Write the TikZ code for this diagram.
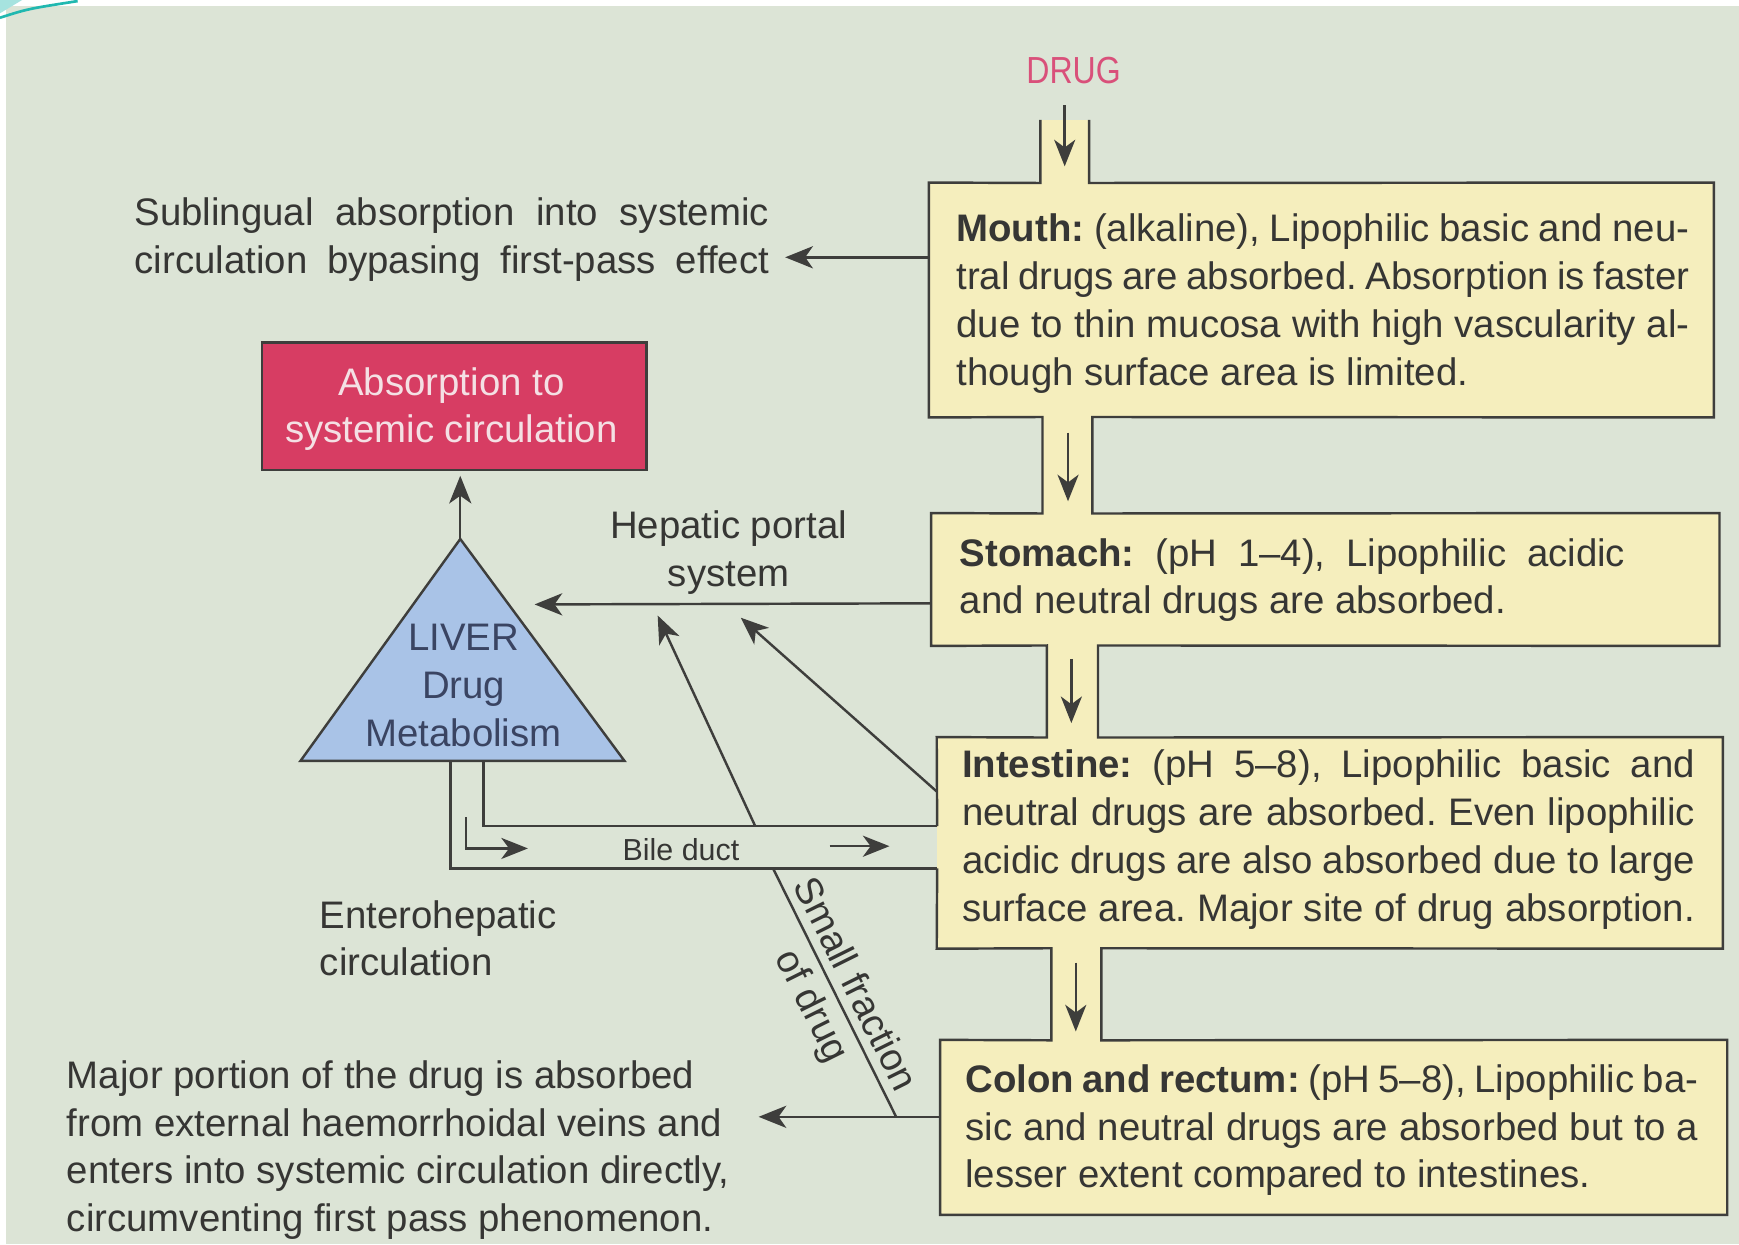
\documentclass[tikz,border=0pt]{standalone}
\usepackage{fontspec}
\setmainfont{Liberation Sans}
\newfontfamily\condf[FakeStretch=0.85]{Liberation Sans}
\usetikzlibrary{arrows.meta,calc,fit}
\definecolor{bg}{HTML}{DCE4D6}
\definecolor{boxy}{HTML}{F5EEBD}
\definecolor{linec}{HTML}{3E3E3C}
\definecolor{ink}{HTML}{363634}
\definecolor{redc}{HTML}{D73D63}
\definecolor{pinkw}{HTML}{F4E0E4}
\definecolor{bluec}{HTML}{A9C3E7}
\definecolor{liverink}{HTML}{3A4462}
\definecolor{drugc}{HTML}{D9507A}
\definecolor{tealc}{HTML}{20B8B0}
\newcommand\jl[1]{\makebox[330.5pt][s]{#1}}
\frenchspacing
\tikzset{
  txt/.style={font=\fontsize{17.3}{21.6}\selectfont, text=ink, inner sep=0pt},
  arr/.style={draw=linec, line width=1.1pt, -{Stealth[length=12.5pt,width=10pt,inset=3.5pt]}},
  sarr/.style={draw=linec, line width=1.1pt, -{Stealth[length=12pt,width=9.5pt,inset=3.5pt]}},
  ln/.style={draw=linec, line width=1.1pt, line join=miter},
  yelbox/.style={fill=boxy, inner sep=0pt, draw=none},
}
\begin{document}
\begin{tikzpicture}[x=0.5pt,y=-0.5pt]
\useasboundingbox (0,0) rectangle (1568,1122);
\fill[white] (0,0) rectangle (1568,1122);
\fill[bg] (5,5) rectangle (1568,1122);
\fill[tealc!40] (0,0) -- (20,0) -- (0,12) -- cycle;
\draw[tealc, line width=1.2pt] (0,16) .. controls (25,8) .. (70,1);

% DRUG
\node[txt, font=\condf\fontsize{17}{20}\selectfont, text=drugc] (drug) at (968,64) {DRUG};

% boxes
\node[yelbox, fit={(838,165) (1545,376)}] (mouth) {};
\node[yelbox, fit={(840,463) (1550,582)}] (stomach) {};
\node[yelbox, fit={(845,665) (1553,855)}] (intestine) {};
\node[yelbox, fit={(848,938) (1557,1095)}] (colon) {};
% necks
\fill[boxy] (938,108) rectangle (982,166);
\fill[boxy] (940,375) rectangle (985,464);
\fill[boxy] (944,581) rectangle (990,666);
\fill[boxy] (948,854) rectangle (993,939);

% outlines with necks
\draw[ln] (938,108) -- (938,165) -- (mouth.north west) -- (mouth.south west) -- (940,376) -- (940,463) -- (stomach.north west) -- (stomach.south west) -- (944,582) -- (944,665) -- (intestine.north west) -- (845,745);
\draw[ln] (845,783) -- (intestine.south west) -- (948,855) -- (948,938) -- (colon.north west) -- (colon.south west) -- (colon.south east) -- (colon.north east) -- (993,938) -- (993,855) -- (intestine.south east) -- (intestine.north east) -- (990,665) -- (990,582) -- (stomach.south east) -- (stomach.north east) -- (985,463) -- (985,376) -- (mouth.south east) -- (mouth.north east) -- (982,165) -- (982,108);

% box texts
\node[txt, anchor=west, align=left] (mouthtxt) at (862,274) {\jl{\textbf{Mouth:} (alkaline), Lipophilic basic and neu-}\\\jl{tral drugs are absorbed. Absorption is faster}\\\jl{due to thin mucosa with high vascularity al-}\\though surface area is limited.};
\node[txt, anchor=west, align=left] (stomtxt) at (865,523) {\makebox[300pt][s]{\textbf{Stomach:} (pH 1–4), Lipophilic acidic}\\and neutral drugs are absorbed.};
\node[txt, anchor=west, align=left] (inttxt) at (867,757) {\jl{\textbf{Intestine:} (pH 5–8), Lipophilic basic and}\\\jl{neutral drugs are absorbed. Even lipophilic}\\\jl{acidic drugs are also absorbed due to large}\\\jl{surface area. Major site of drug absorption.}};
\node[txt, anchor=west, align=left] (coltxt) at (870,1019) {\jl{\textbf{Colon and rectum:} (pH 5–8), Lipophilic ba-}\\\jl{sic and neutral drugs are absorbed but to a}\\lesser extent compared to intestines.};

% down arrows in necks
\coordinate (d1) at (960,95); \coordinate (d2) at (960,150);
\coordinate (m1) at (963,390); \coordinate (m2) at (963,452);
\coordinate (s1) at (966,594); \coordinate (s2) at (966,652);
\coordinate (i1) at (970,868); \coordinate (i2) at (970,930);
\draw[sarr] (d1) -- (d2);
\draw[sarr] (m1) -- (m2);
\draw[sarr] (s1) -- (s2);
\draw[sarr] (i1) -- (i2);

% sublingual
\node[txt, anchor=west, align=left] (subl) at (121,216) {\makebox[286pt][s]{Sublingual absorption into systemic}\\\makebox[286pt][s]{circulation bypasing first-pass effect}};
\coordinate (subs) at (838,232); \coordinate (subt) at (708,232);
\draw[arr] (subs) -- (subt);

% absorption box
\node[draw=linec, line width=1.1pt, fill=redc, minimum width=173.5pt, minimum height=57.5pt, inner sep=0pt] (absorb) at (409.5,366.5) {};
\node[inner sep=0pt, text=pinkw, align=center, font=\fontsize{17.3}{21.3}\selectfont] (abstxt) at (407,369) {Absorption to\\systemic circulation};

% liver triangle
\coordinate (apex) at (415,486);
\draw[ln, fill=bluec] (apex) -- (563,686) -- (271,686) -- cycle;
\node[txt, text=liverink, align=center] (liver) at (418,618) {LIVER\\Drug\\Metabolism};
\coordinate (abt) at (415,429);
\draw[arr] (apex) -- (abt);

% hepatic portal
\node[txt, align=center] (hep) at (657,498) {Hepatic portal\\system};
\coordinate (hps) at (840,544); \coordinate (hpt) at (482,545);
\draw[arr] (hps) -- (hpt);

% bile duct channel
\coordinate (bu0) at (436,686); \coordinate (bu1) at (436,745); \coordinate (bu2) at (845,745);
\coordinate (bl0) at (406,686); \coordinate (bl1) at (406,783); \coordinate (bl2) at (845,783);
\draw[ln] (bu0) -- (bu1) -- (bu2);
\draw[ln] (bl0) -- (bl1) -- (bl2);
\node[txt, font=\fontsize{13.7}{16}\selectfont] (bile) at (614,766) {Bile duct};
\coordinate (ba0) at (420,737); \coordinate (ba1) at (420,765); \coordinate (ba2) at (476,765);
\draw[sarr] (ba0) -- (ba1) -- (ba2);
\coordinate (bb0) at (748,763); \coordinate (bb1) at (802,763);
\draw[sarr] (bb0) -- (bb1);

% diagonal arrows to liver
\coordinate (g1) at (681,745); \coordinate (g1t) at (593,555);
\coordinate (g2) at (845,714); \coordinate (g2t) at (668,557);
\draw[arr] (g1) -- (g1t);
\draw[arr] (g2) -- (g2t);

% enterohepatic
\node[txt, anchor=west, align=left] (entero) at (288,846) {Enterohepatic\\circulation};

% colon arrow and text
\coordinate (cs) at (848,1007); \coordinate (ct) at (684,1007);
\draw[arr] (cs) -- (ct);
\node[txt, anchor=west, align=left] (major) at (60,1037) {Major portion of the drug is absorbed\\from external haemorrhoidal veins and\\enters into systemic circulation directly,\\circumventing first pass phenomenon.};

% small fraction
\coordinate (sf1) at (697,783); \coordinate (sf2) at (808,1007);
\draw[ln] (sf1) -- (sf2);
\node[txt, rotate=-63.6, align=center] (sfrac) at (750,898) {Small fraction\\of drug};
\end{tikzpicture}
\end{document}
